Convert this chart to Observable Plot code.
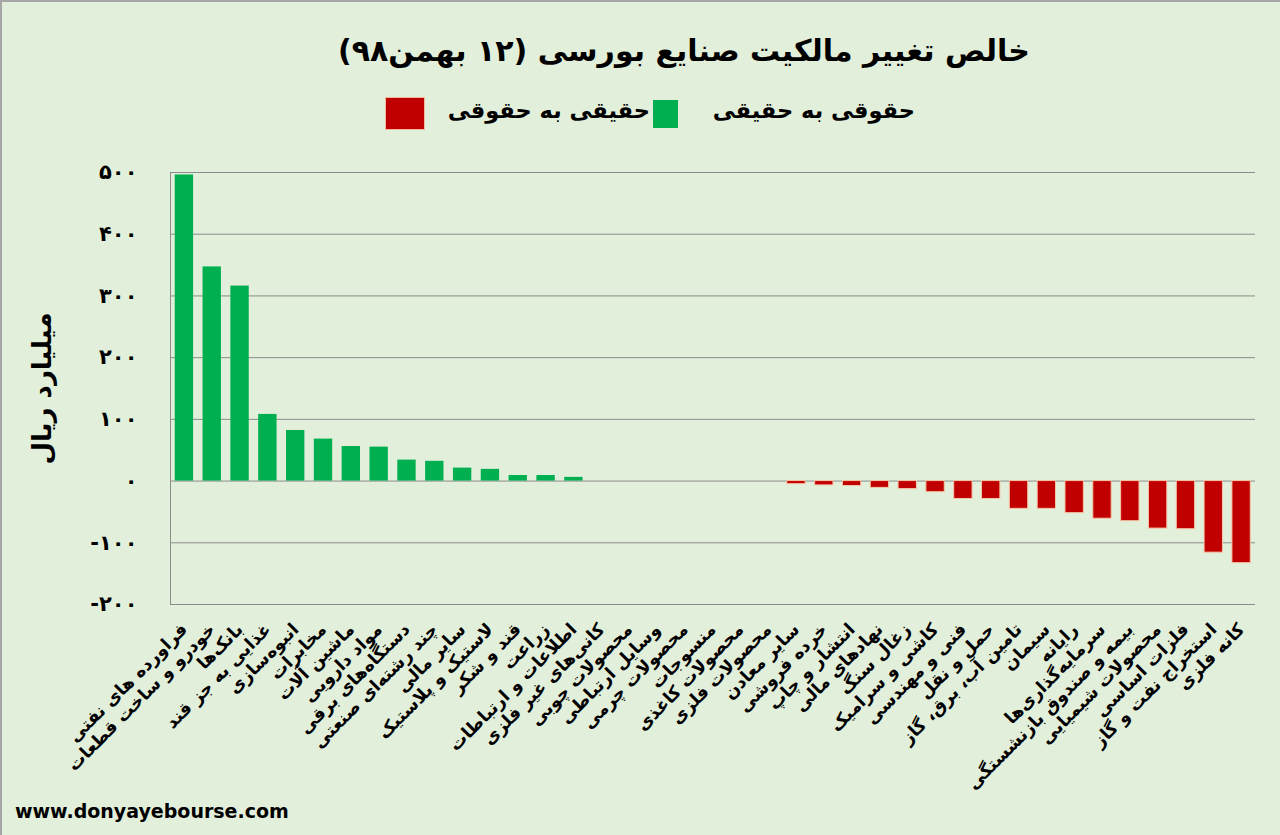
<!DOCTYPE html>
<html lang="fa">
<head>
<meta charset="utf-8">
<script src="https://cdn.jsdelivr.net/npm/d3@7"></script>
<script src="https://cdn.jsdelivr.net/npm/@observablehq/plot@0.6"></script>
<style>
  body { margin: 0; background: #e2efda; }
  #wrap { position: relative; width: 1280px; height: 835px; background: #e2efda; overflow: hidden;
          box-shadow: inset 2px 2px 0 #a6a6a6; font-family: "DejaVu Sans", "Noto Sans", sans-serif; color: #000; }
  #title { position: absolute; top: 33px; left: 44px; width: 1280px; text-align: center; font-weight: bold;
           font-size: 30px; direction: rtl; }
  .lg { position: absolute; top: 97px; font-weight: bold; font-size: 22.5px; direction: rtl; white-space: nowrap; }
  .sw { position: absolute; }
  #chart { position: absolute; top: 140px; left: 0; }
  #footer { position: absolute; left: 15px; top: 800px; font-weight: bold; font-size: 19px; }
</style>
</head>
<body>
<div id="wrap">
  <div id="title">خالص تغییر مالکیت صنایع بورسی (۱۲ بهمن۹۸)</div>
  <div class="lg" style="right:365px">حقوقی به حقیقی</div>
  <div class="sw" style="left:653px; top:100px; width:25px; height:28px; background:#00b050;"></div>
  <div class="lg" style="right:630px">حقیقی به حقوقی</div>
  <div class="sw" style="left:386px; top:98px; width:38px; height:31px; background:#c00000; box-shadow:0 0 0 1px #f4b89a;"></div>
  <div id="chart"></div>
  <div id="footer">www.donyayebourse.com</div>
</div>
<script>
const categories = [
  "فراورده های نفتی", "خودرو و ساخت قطعات", "بانک‌ها", "غذایی به جز قند", "انبوه‌سازی",
  "مخابرات", "ماشین آلات", "مواد دارویی", "دستگاه‌های برقی", "چند رشته‌ای صنعتی",
  "سایر مالی", "لاستیک و پلاستیک", "قند و شکر", "زراعت", "اطلاعات و ارتباطات",
  "کانی‌های غیر فلزی", "محصولات چوبی", "وسایل ارتباطی", "محصولات چرمی", "منسوجات",
  "محصولات کاغذی", "محصولات فلزی", "سایر معادن", "خرده فروشی", "انتشار و چاپ",
  "نهادهای مالی", "زغال سنگ", "کاشی و سرامیک", "فنی و مهندسی", "حمل و نقل",
  "تامین آب، برق، گاز", "سیمان", "رایانه", "سرمایه‌گذاری‌ها", "بیمه و صندوق بازنشستگی",
  "محصولات شیمیایی", "فلزات اساسی", "استخراج نفت و گاز", "کانه فلزی"
];
const values = [
  496, 347, 316, 108, 82,
  68, 56, 55, 34, 32,
  21, 19, 9, 9, 6,
  0, 0, 0, 0, 0,
  0, 0, -5, -7, -8,
  -11, -13, -18, -29, -29,
  -45, -45, -52, -61, -65,
  -77, -78, -116, -133
];
const yTicks = [500, 400, 300, 200, 100, 0, -100, -200];
const yTickLabels = ["۵۰۰", "۴۰۰", "۳۰۰", "۲۰۰", "۱۰۰", "۰", "-۱۰۰", "-۲۰۰"];
const yTitle = "میلیارد ریال";
const positiveColor = "#00b050";
const negativeColor = "#c00000";

const data = categories.map((c, i) => ({category: c, value: values[i]}));
const font = "DejaVu Sans, Noto Sans, sans-serif";

const chart = Plot.plot({
  width: 1280,
  height: 655,
  marginTop: 32,
  marginBottom: 191,
  marginLeft: 170,
  marginRight: 25,
  style: {background: "transparent", fontFamily: font, color: "#000", overflow: "visible"},
  x: {domain: categories, paddingInner: 0.34, paddingOuter: 0.17},
  y: {domain: [-200, 500]},
  marks: [
    Plot.gridY(yTicks, {stroke: "#8c8c8c", strokeOpacity: 1, strokeWidth: 1}),
    Plot.frame({anchor: "left", stroke: "#8c8c8c", strokeWidth: 1}),
    Plot.barY(data, {
      x: "category",
      y: "value",
      fill: d => d.value >= 0 ? positiveColor : negativeColor,
      stroke: d => d.value < 0 ? "#f6c6a8" : "none",
      strokeWidth: 1
    }),
    Plot.axisY(yTicks, {
      tickSize: 0, tickPadding: 33, fontSize: 21, fontWeight: "bold",
      tickFormat: d => yTickLabels[yTicks.indexOf(d)], label: null
    }),
    Plot.axisY([], {
      label: yTitle, labelAnchor: "center", labelOffset: 138, labelArrow: "none",
      fontSize: 26, fontWeight: "bold", tickSize: 0
    }),
    Plot.axisX({
      tickSize: 0, tickRotate: -45, tickPadding: 22, fontSize: 17.5, fontWeight: "bold", label: null
    })
  ]
});
document.getElementById("chart").appendChild(chart);
</script>
</body>
</html>
